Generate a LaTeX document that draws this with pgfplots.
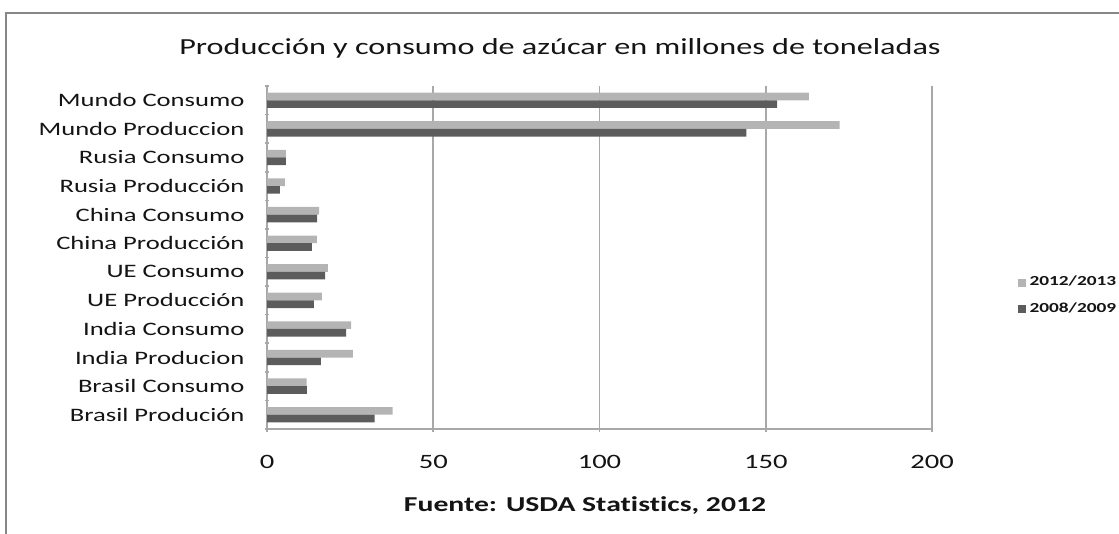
\documentclass[border=0pt]{standalone}
\usepackage{fontspec}
\setmainfont{Carlito}[FakeStretch=1.4, Ligatures=NoCommon]
\usepackage{pgfplots}
\usepackage{pgfplotstable}
\pgfplotsset{compat=1.18}
\definecolor{lightbar}{RGB}{180,180,180}
\definecolor{darkbar}{RGB}{92,92,92}
\definecolor{gridc}{RGB}{168,168,168}
\definecolor{framec}{RGB}{135,135,135}
\definecolor{textc}{RGB}{20,20,20}
\pgfplotstableread{
y new old
0 37.8 32.4
1 11.9 12.0
2 25.8 16.2
3 25.3 23.8
4 16.5 14.1
5 18.3 17.5
6 15.0 13.5
7 15.7 15.1
8 5.4 3.9
9 5.7 5.7
10 172.2 144.2
11 163.0 153.4
}\datatable
\begin{document}
\begin{tikzpicture}
\path[use as bounding box] (0,0) rectangle (559.5pt,267pt);
\draw[framec, line width=1pt] (2.8pt,0) -- (2.8pt,260.5pt) -- (559.5pt,260.5pt);
\node[textc, font=\fontsize{11.5}{13}\selectfont] at (280pt,243pt) {Producción y consumo de azúcar en millones de toneladas};
\node[textc, font=\fontsize{10.6}{12}\selectfont\bfseries] at (292.5pt,14pt) {Fuente: USDA Statistics, 2012};
\begin{axis}[
  at={(133.5pt,52.5pt)}, anchor=south west,
  scale only axis, width=332.5pt, height=171.5pt,
  xbar, bar width=3.85pt,
  xmin=0, xmax=200, ymin=-0.5, ymax=11.5,
  xtick={0,50,100,150,200},
  ytick={0,...,11},
  yticklabels={Brasil Produción, Brasil Consumo, India Producion, India Consumo, UE Producción, UE Consumo, China Producción, China Consumo, Rusia Producción, Rusia Consumo, Mundo Produccion, Mundo Consumo},
  minor ytick={-0.5,0.5,...,11.5},
  major y tick style={draw=none},
  minor y tick style={draw=gridc, line width=0.8pt},
  minor tick length=2pt,
  major tick length=3.5pt,
  tick align=outside,
  xmajorgrids,
  grid style={gridc, line width=0.8pt},
  axis lines=left,
  axis line style={-, draw=gridc, line width=0.8pt},
  x tick style={draw=gridc, line width=0.8pt},
  /pgf/number format/assume math mode=true,
  yticklabel style={textc, font=\fontsize{9.5}{11}\selectfont, xshift=-6pt},
  xticklabel style={textc, font=\fontsize{10.2}{12}\selectfont, yshift=-8pt},
  legend style={at={(1.128,0.3878)}, anchor=west, draw=none, fill=none,
    font=\fontsize{6.9}{8}\selectfont\bfseries, text=textc,
    row sep=3pt, inner sep=0pt, legend cell align=left},
  legend image code/.code={\fill[#1] (0pt,-2pt) rectangle (4pt,2pt);},
]
\addplot[fill=lightbar, draw=none, bar shift=1.92pt] table[x=new, y=y] {\datatable};
\addplot[fill=darkbar, draw=none, bar shift=-1.92pt] table[x=old, y=y] {\datatable};
\legend{2012/2013, 2008/2009}
\end{axis}
\end{tikzpicture}
\end{document}
